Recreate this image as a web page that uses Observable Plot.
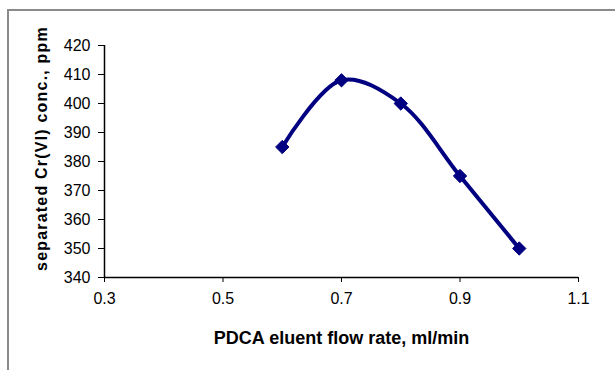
<!DOCTYPE html>
<html>
<head>
<meta charset="utf-8">
<script src="https://cdn.jsdelivr.net/npm/d3@7"></script>
<script src="https://cdn.jsdelivr.net/npm/@observablehq/plot@0.6"></script>
<style>
  html, body { margin: 0; padding: 0; background: #fff; }
  #wrap { position: relative; width: 615px; height: 370px; overflow: hidden; background: #fff; }
  #frame { position: absolute; left: 7px; top: 9px; width: 700px; height: 500px; border-left: 2px solid #8a8a8a; border-top: 2px solid #8a8a8a; box-sizing: border-box; }
  #chart { position: absolute; left: 0; top: 0; }
</style>
</head>
<body>
<div id="wrap"><div id="frame"></div><div id="chart"></div></div>
<script>
const flowRate = [0.6, 0.7, 0.8, 0.9, 1.0];
const concentration = [385, 408, 400, 375, 350];
const xTicks = [0.3, 0.5, 0.7, 0.9, 1.1];
const yTicks = [340, 350, 360, 370, 380, 390, 400, 410, 420];
const xTitle = "PDCA eluent flow rate, ml/min";
const yTitle = "separated Cr(VI) conc., ppm";

const data = flowRate.map((x, i) => ({x, y: concentration[i]}));

const chart = Plot.plot({
  width: 615,
  height: 370,
  marginLeft: 104,
  marginRight: 37,
  marginTop: 45,
  marginBottom: 93,
  style: {fontFamily: "Liberation Sans, Arial, sans-serif", fontSize: "16px", color: "#000", background: "transparent"},
  x: {domain: [0.3, 1.1]},
  y: {domain: [340, 420]},
  marks: [
    Plot.axisX({ticks: xTicks, tickFormat: d => d.toFixed(1), tickSize: 5, tickPadding: 10, fontSize: 16,
      label: null}),
    Plot.axisY({ticks: yTicks, tickFormat: d => String(d), tickSize: 6, tickPadding: 8, fontSize: 16,
      label: null}),
    Plot.text([xTitle], {frameAnchor: "bottom", dy: 66, text: d => d, fontWeight: "bold", fontSize: 18, fill: "#000"}),
    Plot.text([yTitle], {frameAnchor: "left", textAnchor: "middle", dx: -63, dy: -13, rotate: -90, text: d => d, fontWeight: "bold", fontSize: 16, fill: "#000"}),
    Plot.ruleY([340], {stroke: "#000", strokeWidth: 1.5}),
    Plot.ruleX([0.3], {stroke: "#000", strokeWidth: 1.5}),
    Plot.line(data, {x: "x", y: "y", curve: "catmull-rom", stroke: "#000080", strokeWidth: 4}),
    Plot.dot(data, {x: "x", y: "y", symbol: "diamond2", r: 6, fill: "#000080", stroke: "#000080", strokeWidth: 1})
  ]
});
document.getElementById("chart").appendChild(chart);
chart.querySelectorAll("g[aria-label='text'] text").forEach(t => {
  if (t.textContent === yTitle) t.setAttribute("letter-spacing", "1.2px");
});
</script>
</body>
</html>
